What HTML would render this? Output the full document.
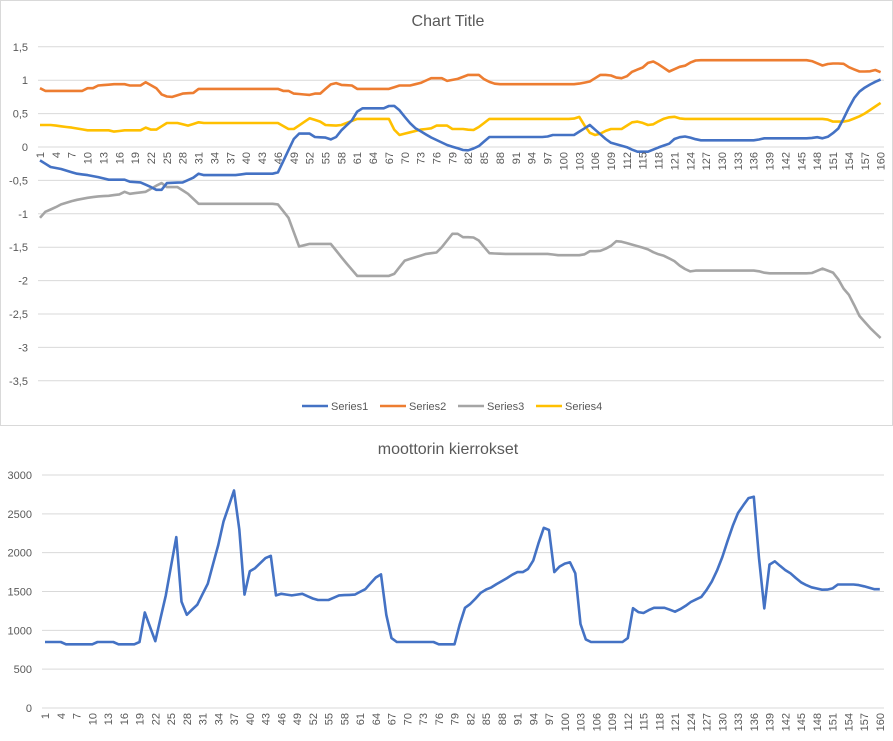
<!DOCTYPE html>
<html><head><meta charset="utf-8"><style>
body{margin:0;background:#fff;}
svg{display:block;font-family:"Liberation Sans",sans-serif;}
</style></head><body>
<svg id="s" width="893" height="741" xmlns="http://www.w3.org/2000/svg"></svg>
<script>
const S=document.getElementById('s');let h='';
h+='<rect x="0.5" y="0.5" width="892" height="425" fill="#fff" stroke="#d9d9d9"/>';
function interp(k){const o=[];for(let i=1;i<=160;i++){let j=0;while(j<k.length-2&&k[j+1][0]<i)j++;const a=k[j],b=k[j+1];let t=(i-a[0])/(b[0]-a[0]);t=Math.max(0,Math.min(1,t));o.push(a[1]+(b[1]-a[1])*t);}return o;}
function poly(vals,fx,fy,col){return '<polyline fill="none" stroke="'+col+'" stroke-width="2.6" stroke-linejoin="round" points="'+vals.map((v,i)=>fx(i+1).toFixed(1)+','+fy(v).toFixed(1)).join(' ')+'"/>';}
// top chart
const tx=i=>40+(i-1)*5.287, ty=v=>147-v*66.8;
h+='<text x="448" y="26" font-size="16" fill="#595959" text-anchor="middle">Chart Title</text>';
const tl=['1,5','1','0,5','0','-0,5','-1','-1,5','-2','-2,5','-3','-3,5'];
tl.forEach((l,k)=>{const v=1.5-k*0.5,y=ty(v);h+='<line x1="38" x2="884" y1="'+y+'" y2="'+y+'" stroke="#d9d9d9"/>';h+='<text x="28" y="'+(y+4)+'" font-size="11" fill="#595959" text-anchor="end">'+l+'</text>';});
const s1=[[1,-0.2],[3,-0.3],[5,-0.33],[8,-0.4],[10,-0.42],[12,-0.45],[14,-0.49],[17,-0.49],[18,-0.52],[20,-0.53],[22,-0.6],[23,-0.64],[24,-0.64],[25,-0.54],[28,-0.53],[30,-0.46],[31,-0.4],[32,-0.42],[38,-0.42],[40,-0.4],[45,-0.4],[46,-0.38],[49,0.12],[50,0.2],[52,0.2],[53,0.15],[55,0.14],[56.5,0.1],[58,0.25],[60,0.4],[61,0.53],[62,0.58],[66,0.58],[67.5,0.63],[68.5,0.6],[70,0.45],[71.6,0.3],[74.8,0.15],[78,0.03],[81.6,-0.06],[83.8,0],[86,0.15],[96.7,0.15],[98,0.18],[102,0.18],[105,0.33],[108.7,0.07],[111.9,0],[113.8,-0.07],[116,-0.07],[118.2,0],[120,0.05],[121.3,0.14],[123.2,0.16],[125.7,0.1],[136.5,0.1],[137.7,0.13],[146.6,0.13],[147.8,0.15],[149,0.13],[150.3,0.16],[152.2,0.29],[153.8,0.56],[155.4,0.79],[156.6,0.87],[158.5,0.96],[160,1.01]];
const s2=[[1,0.88],[2,0.84],[9,0.84],[10,0.88],[11,0.88],[12,0.92],[15,0.94],[17,0.94],[18,0.92],[20,0.92],[21,0.97],[23,0.88],[24.3,0.76],[26,0.75],[28,0.8],[30,0.81],[31,0.87],[46,0.87],[47,0.84],[48,0.84],[49,0.8],[52,0.78],[53,0.8],[54,0.8],[55,0.87],[56.5,0.97],[58,0.93],[60,0.92],[61,0.87],[67,0.87],[69,0.92],[71,0.92],[73,0.96],[75,1.03],[77,1.03],[78,0.99],[80,1.02],[82,1.08],[84,1.08],[85.4,0.99],[87.3,0.94],[102.4,0.94],[105,0.98],[107,1.08],[108.7,1.08],[110.3,1.03],[111.6,1.03],[112.8,1.12],[115,1.19],[116.3,1.28],[117.2,1.28],[120,1.13],[122,1.2],[123.2,1.22],[124.5,1.29],[125.7,1.3],[146.6,1.3],[149,1.22],[150.3,1.25],[152.9,1.25],[154.1,1.19],[156,1.13],[157.9,1.13],[158.8,1.16],[160,1.12]];
const s3=[[1,-1.06],[2,-0.97],[4,-0.9],[5,-0.86],[7,-0.81],[8,-0.79],[10,-0.76],[12,-0.74],[14,-0.73],[16,-0.71],[17,-0.67],[18,-0.7],[19,-0.69],[21,-0.67],[23,-0.58],[24,-0.54],[25,-0.6],[27,-0.6],[29,-0.7],[31,-0.85],[45,-0.85],[46,-0.86],[48,-1.06],[50,-1.49],[52,-1.45],[56,-1.45],[58,-1.65],[61,-1.93],[67,-1.93],[68,-1.9],[70,-1.7],[72,-1.65],[74,-1.6],[76,-1.58],[77,-1.5],[79,-1.3],[80,-1.3],[81,-1.35],[82.9,-1.35],[84,-1.4],[86,-1.59],[88.5,-1.6],[97.4,-1.6],[98.6,-1.62],[103.7,-1.62],[105,-1.56],[106.8,-1.56],[108.7,-1.5],[110,-1.41],[111.2,-1.42],[113.8,-1.48],[115.7,-1.52],[117.6,-1.6],[118.8,-1.62],[121.3,-1.72],[122.3,-1.8],[124.2,-1.87],[125,-1.85],[136.5,-1.85],[138.4,-1.89],[146.9,-1.89],[149,-1.82],[151,-1.88],[152.2,-2],[153.2,-2.15],[154.1,-2.22],[156,-2.53],[157.9,-2.7],[160,-2.86]];
const s4=[[1,0.33],[3,0.33],[5,0.31],[7,0.29],[10,0.25],[14,0.25],[15,0.23],[17,0.25],[20,0.25],[21,0.29],[22,0.26],[23,0.26],[25,0.36],[27,0.36],[29,0.32],[31,0.37],[32,0.36],[46,0.36],[48,0.27],[49,0.27],[52,0.43],[54,0.38],[55,0.33],[57,0.32],[58,0.33],[61,0.42],[67,0.42],[68,0.26],[69,0.18],[71,0.22],[73,0.26],[75,0.28],[76,0.32],[78,0.32],[78.5,0.27],[81,0.27],[82.9,0.25],[84,0.3],[86,0.42],[101.8,0.42],[103,0.45],[104,0.32],[105.3,0.18],[106.5,0.18],[108.7,0.27],[111,0.27],[113.2,0.38],[114.4,0.38],[116,0.33],[117,0.34],[118.8,0.42],[120.7,0.46],[122.3,0.42],[149.7,0.42],[151,0.38],[153.5,0.38],[154.8,0.42],[156.6,0.48],[158.5,0.58],[160,0.66]];
h+=poly(interp(s3),tx,ty,'#a5a5a5');h+=poly(interp(s4),tx,ty,'#ffc000');h+=poly(interp(s2),tx,ty,'#ed7d31');h+=poly(interp(s1),tx,ty,'#4472c4');
for(let i=1;i<=160;i+=3){const x=tx(i)+4;h+='<text transform="translate('+x.toFixed(1)+',152) rotate(-90)" font-size="11" fill="#595959" text-anchor="end">'+i+'</text>';}
const lg=[['Series1','#4472c4',302],['Series2','#ed7d31',380],['Series3','#a5a5a5',458],['Series4','#ffc000',536]];
lg.forEach(a=>{h+='<line x1="'+a[2]+'" x2="'+(a[2]+26)+'" y1="406" y2="406" stroke="'+a[1]+'" stroke-width="2.6"/><text x="'+(a[2]+29)+'" y="410" font-size="11" fill="#595959">'+a[0]+'</text>';});
// bottom chart
const bx=i=>45+(i-1)*5.25, by=v=>708-v*0.07767;
h+='<text x="448" y="454" font-size="16" fill="#595959" text-anchor="middle">moottorin kierrokset</text>';
for(let v=0;v<=3000;v+=500){const y=by(v);h+='<line x1="42" x2="884" y1="'+y+'" y2="'+y+'" stroke="#d9d9d9"/><text x="32" y="'+(y+4)+'" font-size="11" fill="#595959" text-anchor="end">'+v+'</text>';}
const m=[[1,850],[4,850],[5,820],[10,820],[11,850],[14,850],[15,820],[18,820],[19,850],[20,1230],[22,860],[24,1450],[26,2200],[27,1370],[28,1200],[30,1330],[32,1600],[34,2100],[35,2400],[37,2800],[38,2300],[39,1460],[40,1760],[41,1800],[43,1930],[44,1960],[45,1450],[46,1470],[48,1450],[50,1470],[52,1410],[53,1390],[55,1390],[57,1450],[60,1460],[62,1530],[64,1680],[65,1720],[66,1200],[67,900],[68,850],[75,850],[76,820],[79,820],[80,1080],[81,1290],[82.2,1350],[84.1,1490],[85.4,1540],[86.3,1560],[87.3,1610],[88.5,1650],[89.8,1710],[91,1750],[92,1750],[93,1790],[94,1900],[95.8,2300],[96.8,2400],[98,1750],[99,1820],[100.8,1890],[101.9,1810],[102.8,1130],[103.8,890],[105,850],[111,850],[112,900],[112.9,1290],[114.3,1220],[114.9,1220],[116.8,1290],[119,1290],[121,1240],[122.5,1290],[124.1,1370],[126,1430],[127.6,1570],[129.5,1840],[131.4,2230],[132.7,2480],[134.9,2700],[136,2720],[137.9,1220],[138.9,1840],[139.8,1900],[141.9,1780],[143.1,1730],[144.7,1630],[146.6,1560],[149.2,1520],[150.8,1530],[152,1590],[155.5,1590],[156.8,1570],[159,1530],[160,1530]];
h+=poly(interp(m),bx,by,'#4472c4');
for(let i=1;i<=160;i+=3){const x=bx(i)+4;h+='<text transform="translate('+x.toFixed(1)+',713) rotate(-90)" font-size="11" fill="#595959" text-anchor="end">'+i+'</text>';}
S.innerHTML=h;
</script>
</body></html>
